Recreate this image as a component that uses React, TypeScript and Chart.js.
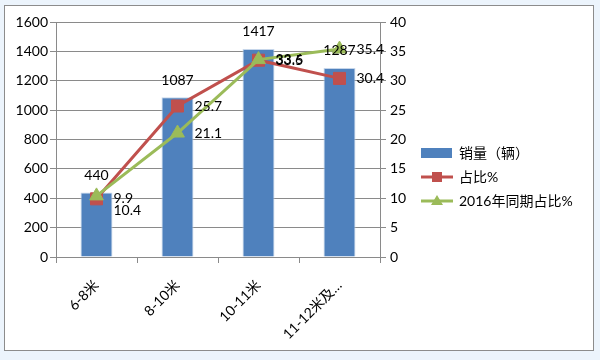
import React, { useEffect, useRef } from "react";
import { Chart, registerables } from "chart.js";

Chart.register(...registerables);

const categories = ["6-8米", "8-10米", "10-11米", "11-12米及…"];
const sales = [440, 1087, 1417, 1287];
const share = [9.9, 25.7, 33.5, 30.4];
const share2016 = [10.4, 21.1, 33.6, 35.4];
const leftTicks = [0, 200, 400, 600, 800, 1000, 1200, 1400, 1600];
const rightTicks = [0, 5, 10, 15, 20, 25, 30, 35, 40];
const seriesNames = ["销量（辆）", "占比%", "2016年同期占比%"];

const FONT = "Lato, 'Noto Sans CJK SC', sans-serif";
const FS = 14;
const BLUE = "#4f81bd";
const RED = "#c0504d";
const GREEN = "#9bbb59";
const GRID = "#8a8a8a";

const framePlugin = {
  id: "frame",
  beforeDraw(chart: any) {
    const ctx = chart.ctx;
    ctx.save();
    ctx.fillStyle = "#ecf4fc";
    ctx.fillRect(0, 0, chart.width, chart.height);
    ctx.fillStyle = "#ffffff";
    ctx.fillRect(4, 5, 589, 345);
    ctx.strokeStyle = "#8c8c8c";
    ctx.lineWidth = 1;
    ctx.strokeRect(4.5, 5.5, 589, 345);
    ctx.restore();
  },
};

const labelPlugin = {
  id: "labels",
  afterDatasetsDraw(chart: any) {
    const ctx = chart.ctx;
    ctx.save();
    ctx.font = FS + "px " + FONT;
    ctx.fillStyle = "#000";
    const barMeta = chart.getDatasetMeta(0);
    barMeta.data.forEach((el: any, i: number) => {
      ctx.textAlign = "center";
      ctx.textBaseline = "middle";
      ctx.fillText(String(sales[i]), el.x, el.y - 17);
    });
    [1, 2].forEach((di) => {
      const meta = chart.getDatasetMeta(di);
      const vals = chart.data.datasets[di].data;
      meta.data.forEach((el: any, i: number) => {
        ctx.textAlign = "left";
        ctx.textBaseline = "middle";
        const dy = di === 2 && i === 0 ? 15 : 0;
        ctx.fillText(String(vals[i]), el.x + 17, el.y + dy);
      });
    });
    ctx.restore();
  },
  afterDraw(chart: any) {
    const ctx = chart.ctx;
    ctx.save();
    ctx.font = FS + "px " + FONT;
    ctx.textBaseline = "middle";
    ctx.textAlign = "left";
    const x0 = 421;
    const rows = [153, 177, 201];
    ctx.fillStyle = BLUE;
    ctx.fillRect(x0, rows[0] - 5, 31, 10);
    ctx.strokeStyle = RED;
    ctx.lineWidth = 3;
    ctx.beginPath();
    ctx.moveTo(x0, rows[1]);
    ctx.lineTo(x0 + 32, rows[1]);
    ctx.stroke();
    ctx.fillStyle = RED;
    ctx.fillRect(x0 + 11, rows[1] - 5, 10, 10);
    ctx.strokeStyle = GREEN;
    ctx.beginPath();
    ctx.moveTo(x0, rows[2]);
    ctx.lineTo(x0 + 32, rows[2]);
    ctx.stroke();
    ctx.fillStyle = GREEN;
    ctx.beginPath();
    ctx.moveTo(x0 + 16, rows[2] - 6);
    ctx.lineTo(x0 + 22, rows[2] + 4);
    ctx.lineTo(x0 + 10, rows[2] + 4);
    ctx.closePath();
    ctx.fill();
    ctx.fillStyle = "#000";
    seriesNames.forEach((n, i) => ctx.fillText(n, 459, rows[i]));
    ctx.restore();
  },
};

export default function App() {
  const ref = useRef<HTMLCanvasElement>(null);
  useEffect(() => {
    if (!ref.current) return;
    const chart = new Chart(ref.current, {
      type: "bar",
      data: {
        labels: categories,
        datasets: [
          {
            type: "bar",
            label: seriesNames[0],
            data: sales,
            backgroundColor: BLUE,
            borderColor: "#c6d6ea",
            borderWidth: 1,
            yAxisID: "y",
            order: 2,
            categoryPercentage: 1,
            barPercentage: 0.395,
          } as any,
          {
            type: "line",
            label: seriesNames[1],
            data: share,
            borderColor: RED,
            backgroundColor: RED,
            borderWidth: 3,
            pointStyle: "rect",
            pointRadius: 8.5,
            pointBorderWidth: 1,
            pointBorderColor: RED,
            yAxisID: "y1",
            order: 1,
          } as any,
          {
            type: "line",
            label: seriesNames[2],
            data: share2016,
            borderColor: GREEN,
            backgroundColor: GREEN,
            borderWidth: 3,
            pointStyle: "triangle",
            pointRadius: 8,
            pointBorderWidth: 1,
            pointBorderColor: GREEN,
            yAxisID: "y1",
            order: 0,
          } as any,
        ],
      },
      options: {
        responsive: false,
        animation: false,
        devicePixelRatio: 1,
        layout: { padding: { top: 22, left: 0, right: 0, bottom: 0 } },
        plugins: { legend: { display: false }, tooltip: { enabled: false } },
        scales: {
          x: {
            afterFit(scale: any) {
              scale.height = 103;
            },
            grid: {
              offset: true,
              drawOnChartArea: false,
              drawTicks: true,
              tickLength: 6,
              color: GRID,
            },
            border: { color: GRID, width: 1 },
            ticks: {
              font: { family: FONT, size: FS },
              color: "#000",
              maxRotation: 45,
              minRotation: 45,
              autoSkip: false,
              padding: 14,
            },
          },
          y: {
            position: "left",
            min: 0,
            max: 1600,
            afterFit(scale: any) {
              scale.width = 56;
            },
            afterBuildTicks(scale: any) {
              scale.ticks = leftTicks.map((v) => ({ value: v }));
            },
            grid: { color: GRID, tickLength: 6 },
            border: { color: GRID },
            ticks: {
              font: { family: FONT, size: FS },
              color: "#000",
              padding: 2,
              callback: (v: any) => String(v),
            },
          },
          y1: {
            position: "right",
            min: 0,
            max: 40,
            afterFit(scale: any) {
              scale.width = 220;
            },
            afterBuildTicks(scale: any) {
              scale.ticks = rightTicks.map((v) => ({ value: v }));
            },
            grid: { drawOnChartArea: false, color: GRID, tickLength: 6 },
            border: { color: GRID },
            ticks: {
              font: { family: FONT, size: FS },
              color: "#000",
              padding: 4,
              callback: (v: any) => String(v),
            },
          },
        },
      },
      plugins: [framePlugin, labelPlugin],
    });
    return () => chart.destroy();
  }, []);
  return (
    <div style={{ position: "fixed", left: 0, top: 0, width: 600, height: 360 }}>
      <canvas ref={ref} width={600} height={360} style={{ width: 600, height: 360 }} />
    </div>
  );
}
